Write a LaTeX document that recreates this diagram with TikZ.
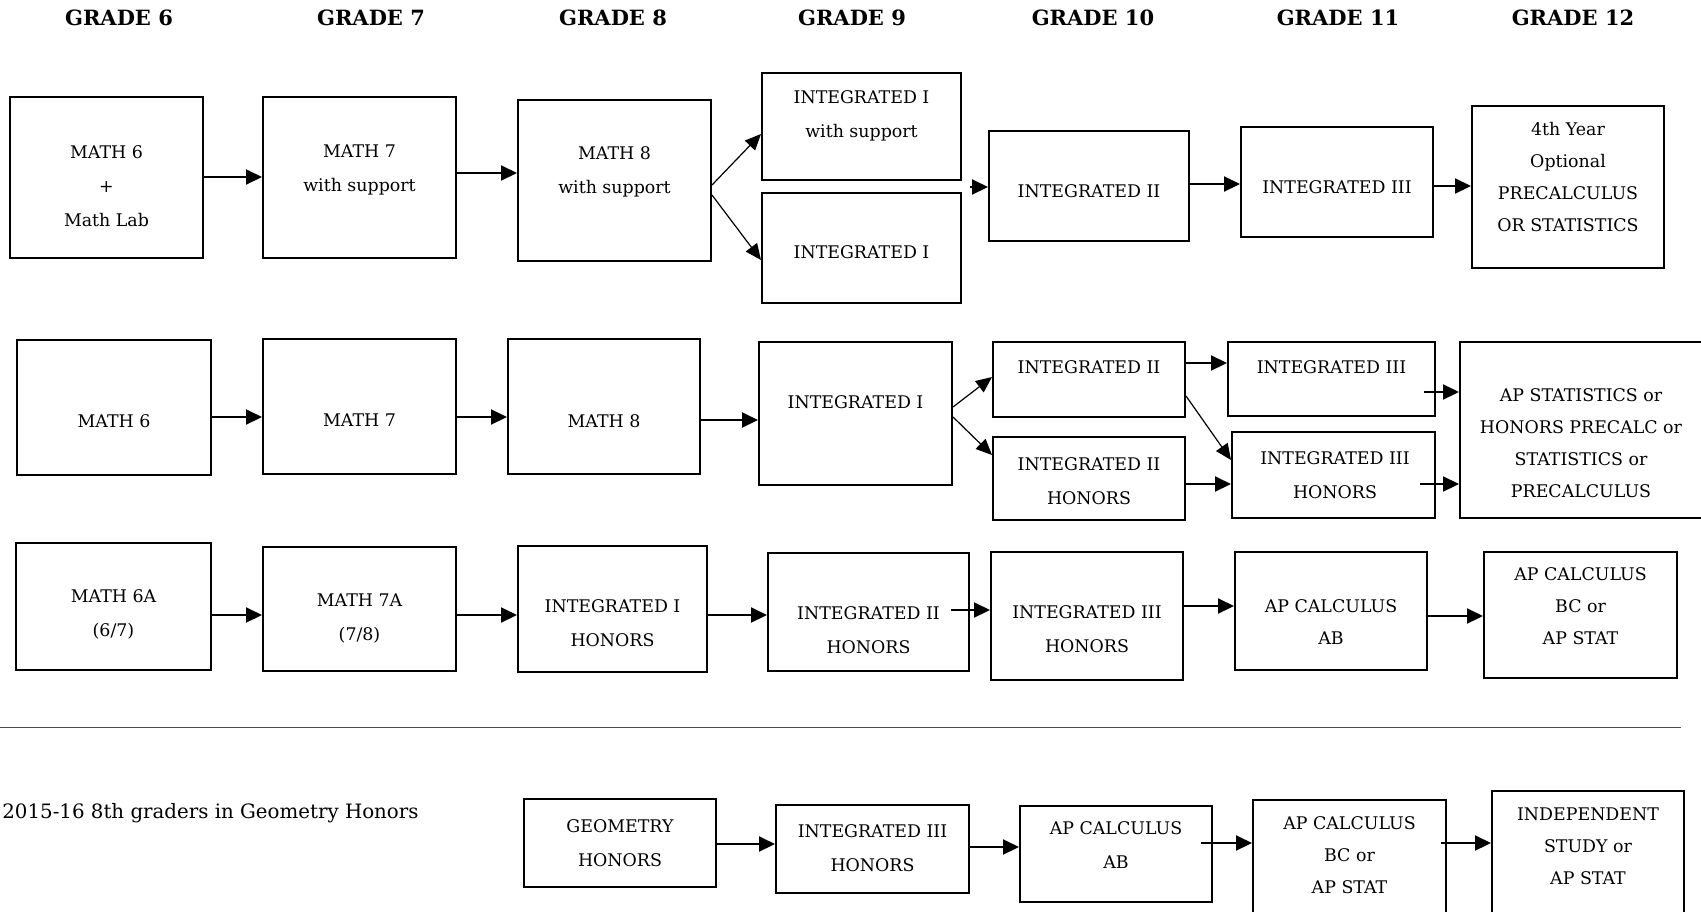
\documentclass[tikz,border=0pt]{standalone}
\usepackage{fontspec}
\setmainfont{DejaVu Serif}
\usetikzlibrary{arrows.meta,fit}
\begin{document}
\begin{tikzpicture}[x=0.5pt,y=-0.5pt,
 box/.style={draw, line width=1pt, inner sep=0pt},
 txt/.style={align=center, font=\fontsize{8.7}{17}\selectfont, inner sep=0pt},
 txtb/.style={align=center, font=\fontsize{8.7}{16}\selectfont, inner sep=0pt},
 hdr/.style={font=\bfseries\fontsize{10.5}{12}\selectfont, inner sep=0pt},
 arr/.style={line width=1pt, -{Triangle[length=8pt,width=7.5pt]}},
 thinarr/.style={line width=0.6pt, -{Triangle[length=8pt,width=7pt]}},
]
\useasboundingbox (0,0) rectangle (1701,911);
\clip (0,0) rectangle (1701,911);
\fill[white] (0,0) rectangle (1701,911);

% headers
\node[hdr] (g6) at (119,17.5) {GRADE 6};
\node[hdr] (g7) at (371,17.5) {GRADE 7};
\node[hdr] (g8) at (613,17.5) {GRADE 8};
\node[hdr] (g9) at (852,17.5) {GRADE 9};
\node[hdr] (g10) at (1093,17.5) {GRADE 10};
\node[hdr] (g11) at (1338,17.5) {GRADE 11};
\node[hdr] (g12) at (1573,17.5) {GRADE 12};

% row 1
\node[box, fit={(10,97) (203,258)}] (a1) {};
\node[box, fit={(263,97) (456,258)}] (a2) {};
\node[box, fit={(518,100) (711,261)}] (a3) {};
\node[box, fit={(762,73) (961,180)}] (a4a) {};
\node[box, fit={(762,193) (961,303)}] (a4b) {};
\node[box, fit={(989,131) (1189,241)}] (a5) {};
\node[box, fit={(1241,127) (1433,237)}] (a6) {};
\node[box, fit={(1472,106) (1664,268)}] (a7) {};
\node[txt] (a1t) at (106.5,186) {MATH 6\\+\\Math Lab};
\node[txt] (a2t) at (359.5,170) {MATH 7\\with support};
\node[txt] (a3t) at (614.5,172) {MATH 8\\with support};
\node[txt] (a4at) at (861.5,116) {INTEGRATED I\\with support};
\node[txt] (a4bt) at (861.5,252) {INTEGRATED I};
\node[txt] (a5t) at (1089,191) {INTEGRATED II};
\node[txt] (a6t) at (1337,187) {INTEGRATED III};
\node[txtb] (a7t) at (1568,177) {4th Year\\Optional\\PRECALCULUS\\OR STATISTICS};

\draw[arr] (a1.east |- 0,177) -- (a2.west |- 0,177);
\draw[arr] (a2.east |- 0,173) -- (a3.west |- 0,173);
\draw[thinarr] (a3.east |- 0,185) -- (a4a.west |- 0,134);
\draw[thinarr] (a3.east |- 0,195) -- (a4b.west |- 0,260);
\coordinate (a5in) at (970,187);
\draw[arr] (a5in) -- (a5.west |- a5in);
\draw[arr] (a5.east |- 0,184) -- (a6.west |- 0,184);
\draw[arr] (a6.east |- 0,186) -- (a7.west |- 0,186);

% row 2
\node[box, fit={(17,340) (211,475)}] (b1) {};
\node[box, fit={(263,339) (456,474)}] (b2) {};
\node[box, fit={(508,339) (700,474)}] (b3) {};
\node[box, fit={(759,342) (952,485)}] (b4) {};
\node[box, fit={(993,342) (1185,417)}] (b5a) {};
\node[box, fit={(993,437) (1185,520)}] (b5b) {};
\node[box, fit={(1228,342) (1435,416)}] (b6a) {};
\node[box, fit={(1232,432) (1435,518)}] (b6b) {};
\node[box, fit={(1460,342) (1730,518)}] (b7) {};
\node[txt] (b1t) at (114,421) {MATH 6};
\node[txt] (b2t) at (359.5,420) {MATH 7};
\node[txt] (b3t) at (604,421) {MATH 8};
\node[txt] (b4t) at (855.5,402) {INTEGRATED I};
\node[txt] (b5at) at (1089,367) {INTEGRATED II};
\node[txt] (b5bt) at (1089,481.5) {INTEGRATED II\\HONORS};
\node[txt] (b6at) at (1331.5,367) {INTEGRATED III};
\node[txt] (b6bt) at (1335,475.5) {INTEGRATED III\\HONORS};
\node[txtb] (b7t) at (1581,443) {AP STATISTICS or\\HONORS PRECALC or\\STATISTICS or\\PRECALCULUS};

\draw[arr] (b1.east |- 0,417) -- (b2.west |- 0,417);
\draw[arr] (b2.east |- 0,417) -- (b3.west |- 0,417);
\draw[arr] (b3.east |- 0,420) -- (b4.west |- 0,420);
\draw[thinarr] (b4.east |- 0,407) -- (b5a.west |- 0,377);
\draw[thinarr] (b4.east |- 0,417) -- (b5b.west |- 0,455);
\draw[arr] (b5a.east |- 0,363) -- (b6a.west |- 0,363);
\draw[thinarr] (b5a.east |- 0,396) -- (b6b.west |- 0,460);
\draw[arr] (b5b.east |- 0,484) -- (b6b.west |- 0,484);
\coordinate (b6aout) at (1424,392);
\coordinate (b6bout) at (1420,484);
\draw[arr] (b6aout) -- (b7.west |- b6aout);
\draw[arr] (b6bout) -- (b7.west |- b6bout);

% row 3
\node[box, fit={(16,543) (211,670)}] (c1) {};
\node[box, fit={(263,547) (456,671)}] (c2) {};
\node[box, fit={(518,546) (707,672)}] (c3) {};
\node[box, fit={(768,553) (969,671)}] (c4) {};
\node[box, fit={(991,552) (1183,680)}] (c5) {};
\node[box, fit={(1235,552) (1427,670)}] (c6) {};
\node[box, fit={(1484,552) (1677,678)}] (c7) {};
\node[txt] (c1t) at (113.5,614.5) {MATH 6A\\(6/7)};
\node[txt] (c2t) at (359.5,618) {MATH 7A\\(7/8)};
\node[txt] (c3t) at (612.5,623.5) {INTEGRATED I\\HONORS};
\node[txt] (c4t) at (868.5,630) {INTEGRATED II\\HONORS};
\node[txt] (c5t) at (1087,629) {INTEGRATED III\\HONORS};
\node[txtb] (c6t) at (1331,622) {AP CALCULUS\\AB};
\node[txtb] (c7t) at (1580.5,606.5) {AP CALCULUS\\BC or\\AP STAT};

\draw[arr] (c1.east |- 0,615) -- (c2.west |- 0,615);
\draw[arr] (c2.east |- 0,615) -- (c3.west |- 0,615);
\draw[arr] (c3.east |- 0,615) -- (c4.west |- 0,615);
\coordinate (c4out) at (951,610);
\draw[arr] (c4out) -- (c5.west |- c4out);
\draw[arr] (c5.east |- 0,606) -- (c6.west |- 0,606);
\draw[arr] (c6.east |- 0,616) -- (c7.west |- 0,616);

% separator
\coordinate (sepL) at (0,727);
\coordinate (sepR) at (1681,727);
\draw[black!70, line width=0.5pt] (sepL) -- (sepR);

% bottom row
\node[anchor=west, inner sep=0pt, font=\fontsize{9.9}{12}\selectfont] (note) at (2,813) {2015-16 8th graders in Geometry Honors};
\node[box, fit={(524,799) (716,887)}] (d1) {};
\node[box, fit={(776,805) (969,893)}] (d2) {};
\node[box, fit={(1020,806) (1212,902)}] (d3) {};
\node[box, fit={(1253,800) (1446,940)}] (d4) {};
\node[box, fit={(1492,791) (1684,940)}] (d5) {};
\node[txt] (d1t) at (620,843) {GEOMETRY\\HONORS};
\node[txt] (d2t) at (872.5,848) {INTEGRATED III\\HONORS};
\node[txt] (d3t) at (1116,845.5) {AP CALCULUS\\AB};
\node[txtb] (d4t) at (1349.5,855) {AP CALCULUS\\BC or\\AP STAT};
\node[txtb] (d5t) at (1588,846) {INDEPENDENT\\STUDY or\\AP STAT};

\draw[arr] (d1.east |- 0,844) -- (d2.west |- 0,844);
\draw[arr] (d2.east |- 0,847) -- (d3.west |- 0,847);
\coordinate (d3out) at (1201,843);
\coordinate (d4out) at (1441,843);
\draw[arr] (d3out) -- (d4.west |- d3out);
\draw[arr] (d4out) -- (d5.west |- d4out);
\end{tikzpicture}
\end{document}
